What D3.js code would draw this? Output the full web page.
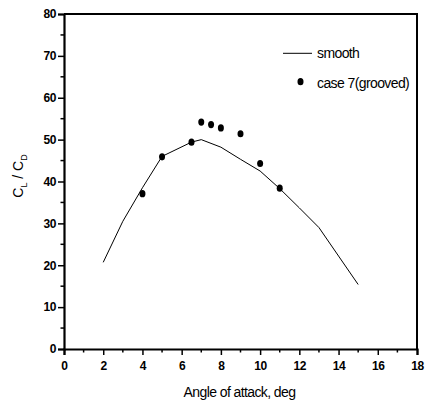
<!DOCTYPE html>
<html>
<head>
<meta charset="utf-8">
<script src="https://cdn.jsdelivr.net/npm/d3@7"></script>
<style>
  html, body { margin: 0; padding: 0; background: #fff; }
  svg { display: block; }
  text { font-family: "Liberation Sans", Arial, sans-serif; fill: #000; }
</style>
</head>
<body>
<svg id="chart" width="425" height="401"></svg>
<script>
// Lift-to-drag ratio versus angle of attack
const smoothAngle = [2, 3, 4, 5, 6.5, 7, 8, 9, 10, 11, 12, 13, 14, 15];
const smoothRatio = [20.7, 30.5, 38.5, 46.0, 49.4, 50.0, 48.2, 45.3, 42.5, 38.3, 33.7, 29.0, 22.2, 15.4];

const groovedAngle = [4, 5, 6.5, 7, 7.5, 8, 9, 10, 11];
const groovedRatio = [37.1, 45.9, 49.4, 54.2, 53.6, 52.8, 51.4, 44.3, 38.4];

const xTicks = [0, 2, 4, 6, 8, 10, 12, 14, 16, 18];
const yTicks = [0, 10, 20, 30, 40, 50, 60, 70, 80];

const svg = d3.select("#chart");
const plotL = 64, plotR = 417, plotT = 14, plotB = 349;

const x = d3.scaleLinear().domain([0, 18]).range([plotL, plotR]);
const y = d3.scaleLinear().domain([0, 80]).range([plotB, plotT]);

// frame (top and right)
svg.append("path")
  .attr("d", `M${plotL},${plotT}H${plotR}V${plotB}`)
  .attr("fill", "none").attr("stroke", "#000").attr("stroke-width", 2);

// minor ticks
const xMinor = d3.range(1, 18, 2);
const yMinor = d3.range(5, 80, 10);

const xAxis = d3.axisBottom(x).tickValues(xTicks).tickSize(6).tickPadding(6);
const gx = svg.append("g").attr("transform", `translate(0,${plotB})`).call(xAxis);
gx.append("g").selectAll("line").data(xMinor).join("line")
  .attr("x1", d => x(d)).attr("x2", d => x(d)).attr("y1", 0).attr("y2", 3.5)
  .attr("stroke", "#000").attr("stroke-width", 1.5);

const yAxis = d3.axisLeft(y).tickValues(yTicks).tickSize(6).tickPadding(2);
const gy = svg.append("g").attr("transform", `translate(${plotL},0)`).call(yAxis);
gy.append("g").selectAll("line").data(yMinor).join("line")
  .attr("y1", d => y(d)).attr("y2", d => y(d)).attr("x1", 0).attr("x2", -3.5)
  .attr("stroke", "#000").attr("stroke-width", 1.5);

[gx, gy].forEach(g => {
  g.select(".domain").attr("stroke-width", 2.2);
  g.selectAll(".tick line").attr("stroke-width", 1.5);
  g.selectAll(".tick text")
    .style("font-family", "'Liberation Sans', Arial, sans-serif")
    .style("font-size", "12px")
    .style("font-weight", "bold")
    .style("letter-spacing", "-0.4px")
    .attr("fill", "#000");
});

// smooth curve
svg.append("path")
  .datum(smoothAngle.map((a, i) => [a, smoothRatio[i]]))
  .attr("fill", "none").attr("stroke", "#000").attr("stroke-width", 1)
  .attr("d", d3.line().x(d => x(d[0])).y(d => y(d[1])));

// grooved case markers
svg.append("g").selectAll("ellipse")
  .data(groovedAngle.map((a, i) => [a, groovedRatio[i]]))
  .join("ellipse")
  .attr("cx", d => x(d[0])).attr("cy", d => y(d[1]))
  .attr("rx", 3).attr("ry", 3.6).attr("fill", "#000");

// legend
const lg = svg.append("g");
lg.append("line").attr("x1", 283).attr("x2", 312).attr("y1", 53.3).attr("y2", 53.3)
  .attr("stroke", "#000").attr("stroke-width", 1);
lg.append("text").attr("x", 317).attr("y", 58).text("smooth")
  .style("font-size", "14px").style("letter-spacing", "-0.6px");
lg.append("ellipse").attr("cx", 300.5).attr("cy", 81.7).attr("rx", 3).attr("ry", 3.6).attr("fill", "#000");
lg.append("text").attr("x", 317).attr("y", 87.5).text("case 7(grooved)")
  .style("font-size", "14px").style("letter-spacing", "-0.6px");

// axis titles
svg.append("text").attr("x", 239.5).attr("y", 396.5)
  .attr("text-anchor", "middle").text("Angle of attack, deg")
  .style("font-size", "14px").style("letter-spacing", "-0.6px");

const yt = svg.append("text")
  .attr("transform", `translate(22.5,176) rotate(-90)`)
  .attr("text-anchor", "middle")
  .style("font-size", "14px");
yt.append("tspan").text("C");
yt.append("tspan").text("L").attr("dy", 4).style("font-size", "9px");
yt.append("tspan").text(" / C").attr("dy", -4);
yt.append("tspan").text("D").attr("dy", 4).style("font-size", "9px");
</script>
</body>
</html>
